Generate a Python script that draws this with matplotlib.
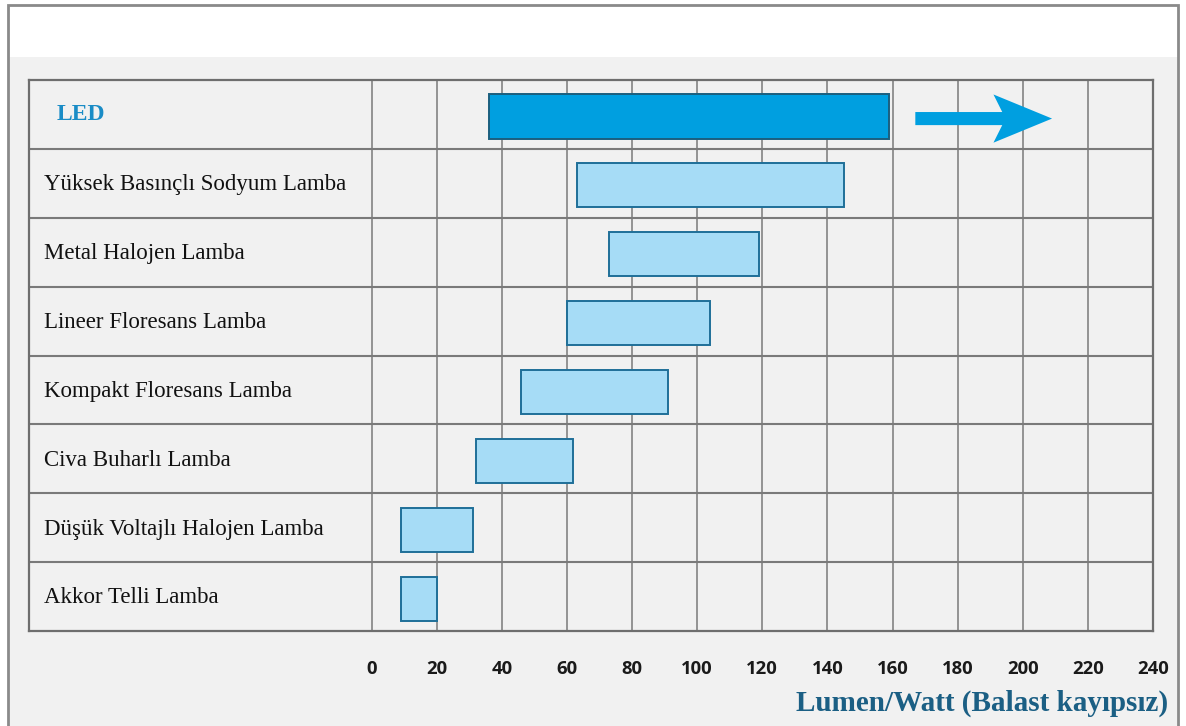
import numpy as np
import matplotlib
matplotlib.use("Agg")
import matplotlib.pyplot as plt
import matplotlib.patches as patches
from matplotlib.transforms import blended_transform_factory

# lamp types, top to bottom
lamps = ["LED", "Yüksek Basınçlı Sodyum Lamba", "Metal Halojen Lamba",
         "Lineer Floresans Lamba", "Kompakt Floresans Lamba",
         "Civa Buharlı Lamba", "Düşük Voltajlı Halojen Lamba",
         "Akkor Telli Lamba"]
# efficacy range (lumen / watt)
low = [36, 63, 73, 60, 46, 32, 9, 9]
high = [159, 145, 119, 104, 91, 62, 31, 20]
ticks = [0, 20, 40, 60, 80, 100, 120, 140, 160, 180, 200, 220, 240]
xlabel = "Lumen/Watt (Balast kayıpsız)"

W, H = 1186, 726
fig = plt.figure(figsize=(W / 100, H / 100), dpi=100)
fig.patch.set_facecolor("white")

bg = "#f1f1f1"
# grey panel + outer frame
fig.patches.append(patches.Rectangle((8 / W, 0), 1170 / W, 1 - 57 / H,
                                     transform=fig.transFigure,
                                     facecolor=bg, edgecolor="none", zorder=-2))
fig.patches.append(patches.Rectangle((8 / W, -0.01), 1170 / W, 1.01 - 5 / H,
                                     transform=fig.transFigure, fill=False,
                                     edgecolor="#8a8a8a", linewidth=2, zorder=-1))

ax = fig.add_axes([29 / W, 95 / H, (1153 - 29) / W, (631 - 80) / H])
ax.set_zorder(2)
ax.set_facecolor(bg)

n = len(lamps)
y = np.arange(n)
xmin = -(371.5 - 29) / 65.1 * 20
ax.set_xlim(xmin, 240)
ax.set_ylim(n - 0.5, -0.5)

# grid of the table
for t in ticks[:-1]:
    ax.axvline(t, color="#8c8c8c", linewidth=1.3, zorder=1)
for k in range(n - 1):
    ax.axhline(k + 0.5, color="#7a7a7a", linewidth=1.5, zorder=1)
for s in ax.spines.values():
    s.set_color("#6e6e6e")
    s.set_linewidth(1.6)

lo = np.array(low)
hi = np.array(high)
colors = ["#009fe0"] + ["#a6dcf6"] * (n - 1)
edges = ["#1b5f7e"] + ["#1f6f98"] * (n - 1)
ax.barh(y + 0.03, hi - lo, left=lo, height=0.64, color=colors,
        edgecolor=edges, linewidth=1.4, zorder=3)

# arrow after the LED bar
ax.arrow(high[0] + 8, 0.06, 24, 0, width=0.19, head_width=0.70,
         head_length=18, overhang=0.15, length_includes_head=False,
         color="#009fe0", linewidth=0, zorder=3)

# row labels
tr = blended_transform_factory(ax.transAxes, ax.transData)
for i, name in enumerate(lamps):
    if i == 0:
        ax.text(28 / 1124, i, name, transform=tr, va="center", ha="left",
                fontsize=17, fontweight="bold", color="#1a8cc6",
                family="Liberation Serif")
    else:
        ax.text(15 / 1124, i + 0.02, name, transform=tr, va="center",
                ha="left", fontsize=16.5, color="#111111",
                family="Liberation Serif")

ax.set_yticks([])
ax.set_xticks(ticks)
ax.set_xticklabels([str(t) for t in ticks], fontsize=13.3, fontweight="bold",
                   family="Open Sans", color="#1a1a1a")
ax.tick_params(axis="x", length=0, pad=21)

fig.text(1168 / W, 1 - 703 / H, xlabel, ha="right", va="center",
         fontsize=21, fontweight="bold", color="#1b5f84",
         family="Liberation Serif", zorder=3)

fig.savefig("out.png", dpi=100, facecolor="white")
